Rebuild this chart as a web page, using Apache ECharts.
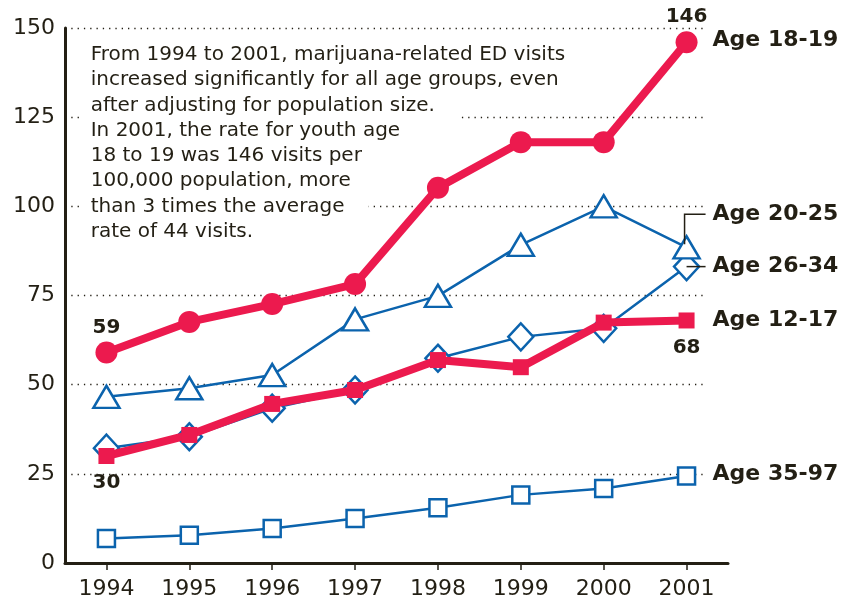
<!DOCTYPE html>
<html>
<head>
<meta charset="utf-8">
<script src="https://cdn.jsdelivr.net/npm/echarts@6/dist/echarts.min.js"></script>
<style>
html,body{margin:0;padding:0;background:#fff;}
#chart{width:854px;height:601px;}
</style>
</head>
<body>
<div id="chart"></div>
<script>
const years = ['1994', '1995', '1996', '1997', '1998', '1999', '2000', '2001'];
const yTicks = [0, 25, 50, 75, 100, 125, 150];
const age1819 = [59, 67.6, 72.6, 78.2, 105.2, 118, 118, 146];
const age2025 = [46.6, 49, 52.7, 68.3, 74.9, 89.2, 100, 88.5];
const age2634 = [32.2, 35.4, 43.4, 48.5, 57.4, 63.4, 65.8, 83.1];
const age1217 = [30, 35.9, 44.6, 48.5, 56.9, 54.9, 67.4, 68];
const age3597 = [6.9, 7.8, 9.7, 12.5, 15.5, 19.1, 20.9, 24.4];
const noteLines = [
  'From 1994 to 2001, marijuana-related ED visits',
  'increased significantly for all age groups, even',
  'after adjusting for population size.',
  'In 2001, the rate for youth age',
  '18 to 19 was 146 visits per',
  '100,000 population, more',
  'than 3 times the average',
  'rate of 44 visits.'
];

const RED = '#EC1A4E';
const BLUE = '#0B63AD';
const INK = '#231F14';
const FONT = 'DejaVu Sans';

const chart = echarts.init(document.getElementById('chart'), null, {renderer: 'canvas'});

function blueSeries(name, data, symbol, size, endOffset) {
  return {
    name: name, type: 'line', data: data, xAxisIndex: 0, yAxisIndex: 0,
    symbol: symbol, symbolSize: size, showAllSymbol: true, z: 3,
    lineStyle: {color: BLUE, width: 2.5},
    itemStyle: {color: '#fff', borderColor: BLUE, borderWidth: 2.5},
    endLabel: {show: true, formatter: name, distance: 26, offset: endOffset,
      fontFamily: FONT, fontWeight: 'bold', fontSize: 22, color: INK, align: 'left'},
    emphasis: {disabled: true}
  };
}

function valueItems(arr, idxs, position, dist) {
  return arr.map(function (v, i) {
    if (idxs.indexOf(i) < 0) return v;
    return {value: v, label: {show: true, position: position, distance: dist,
      formatter: '{c}', fontFamily: FONT, fontWeight: 'bold', fontSize: 20, color: INK}};
  });
}

const option = {
  animation: false,
  backgroundColor: '#fff',
  grid: [
    {left: 65, right: 126, top: 28, bottom: 38, containLabel: false},
    {left: 65, right: 151, top: 28, bottom: 38, containLabel: false}
  ],
  xAxis: [
    {
      type: 'category', gridIndex: 0, data: years, boundaryGap: true,
      axisLine: {show: true, lineStyle: {color: INK, width: 3}},
      axisTick: {show: true, alignWithLabel: true, length: 7, lineStyle: {color: INK, width: 1.5}},
      axisLabel: {margin: 15, fontFamily: FONT, fontSize: 22, color: INK},
      splitLine: {show: false}
    },
    {
      type: 'category', gridIndex: 1, data: years, show: false
    }
  ],
  yAxis: [
    {
      type: 'value', gridIndex: 0, min: yTicks[0], max: yTicks[yTicks.length - 1], interval: 25,
      axisLine: {show: true, lineStyle: {color: INK, width: 3}},
      axisTick: {show: false},
      axisLabel: {margin: 10, fontFamily: FONT, fontSize: 22, color: INK},
      splitLine: {show: false}
    },
    {
      type: 'value', gridIndex: 1, min: yTicks[0], max: yTicks[yTicks.length - 1], interval: 25,
      axisLine: {show: false}, axisTick: {show: false}, axisLabel: {show: false},
      splitLine: {show: true, lineStyle: {color: INK, width: 1.3, type: [1.3, 5]}}
    }
  ],
  series: [
    blueSeries('Age 35-97', age3597, 'rect', 17, [0, -2]),
    blueSeries('Age 26-34', age2634, 'diamond', [25, 27], [0, 0]),
    blueSeries('Age 20-25', age2025, 'triangle', [26, 22], [0, -33]),
    {
      name: 'Age 12-17', type: 'line', xAxisIndex: 0, yAxisIndex: 0, z: 4,
      data: valueItems(age1217, [0, 7], 'bottom', 9),
      symbol: 'rect', symbolSize: 16, showAllSymbol: true,
      lineStyle: {color: RED, width: 8},
      itemStyle: {color: RED},
      endLabel: {show: true, formatter: 'Age 12-17', distance: 26, offset: [0, 0],
        fontFamily: FONT, fontWeight: 'bold', fontSize: 22, color: INK, align: 'left'},
      emphasis: {disabled: true}
    },
    {
      name: 'Age 18-19', type: 'line', xAxisIndex: 0, yAxisIndex: 0, z: 5,
      data: valueItems(age1819, [0, 7], 'top', 4),
      symbol: 'circle', symbolSize: 22, showAllSymbol: true,
      lineStyle: {color: RED, width: 8},
      itemStyle: {color: RED},
      endLabel: {show: true, formatter: 'Age 18-19', distance: 26, offset: [0, -2],
        fontFamily: FONT, fontWeight: 'bold', fontSize: 22, color: INK, align: 'left'},
      emphasis: {disabled: true}
    }
  ],
  graphic: noteLines.map(function (t, i) {
    return {
      type: 'text', z: 2,
      x: 82.7, y: 55 + i * 25.25,
      style: {
        text: t, fill: INK, font: '20px "' + FONT + '"',
        verticalAlign: 'middle', align: 'left',
        backgroundColor: '#fff', padding: [4, 24, 4, 8]
      }
    };
  })
};

chart.setOption(option);

// leader lines from labels to the 2001 markers, positioned through the axes' scales
const p20 = chart.convertToPixel({xAxisIndex: 0, yAxisIndex: 0}, [years[7], age2025[7]]);
const p26 = chart.convertToPixel({xAxisIndex: 0, yAxisIndex: 0}, [years[7], age2634[7]]);
chart.setOption({
  graphic: option.graphic.concat([
    {type: 'polyline', z: 10, shape: {points: [[p20[0] - 2, p20[1] - 3], [p20[0] - 2, p20[1] - 33], [p20[0] + 19, p20[1] - 33]]},
      style: {stroke: INK, lineWidth: 1.5, fill: null}},
    {type: 'line', z: 10, shape: {x1: p26[0], y1: p26[1], x2: p26[0] + 19, y2: p26[1]},
      style: {stroke: INK, lineWidth: 1.5}}
  ])
});
</script>
</body>
</html>
